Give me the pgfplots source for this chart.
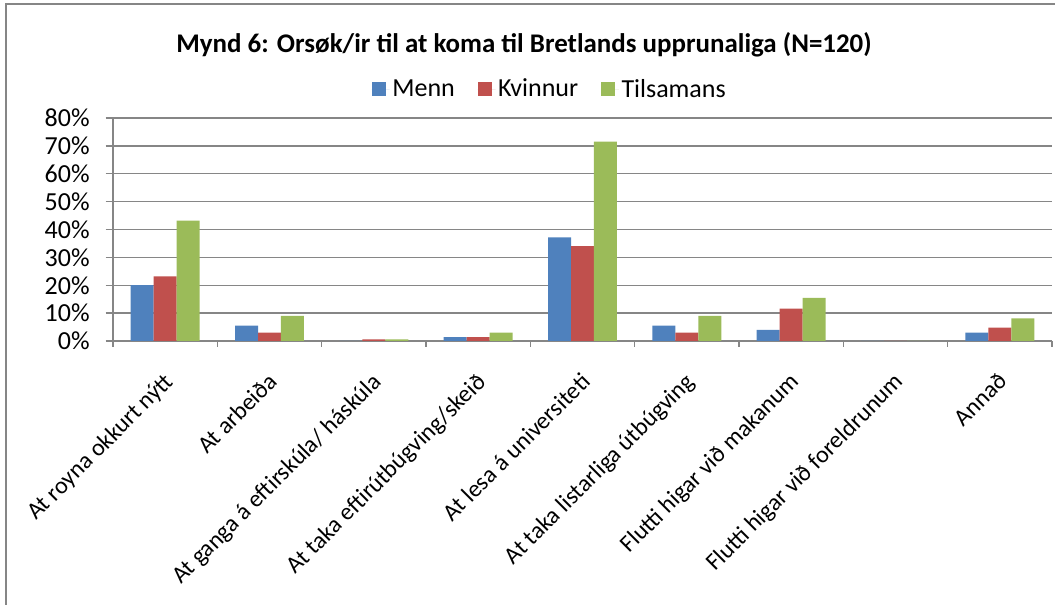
\documentclass[border=0pt]{standalone}
\usepackage{pgfplots}
\pgfplotsset{compat=1.18}
\usepackage{fontspec}
\setmainfont{Carlito}
\definecolor{cMenn}{HTML}{4F81BD}
\definecolor{cKv}{HTML}{C0504D}
\definecolor{cTil}{HTML}{9BBB59}
\definecolor{gridc}{HTML}{868686}
\begin{document}
\begin{tikzpicture}
\begin{axis}[
  at={(84.75pt,198pt)}, anchor=south west,
  scale only axis, width=704.25pt, height=167.25pt,
  xmin=0.5, xmax=9.5, ymin=0, ymax=80,
  ybar=0pt, bar width=0.22,
  axis x line*=bottom, axis y line*=left,
  axis line style={gridc,line width=1.1pt},
  ymajorgrids, grid style={gridc,line width=1.1pt},
  xtick={1,...,9},
  xticklabels={At royna okkurt nýtt,At arbeiða,At ganga á eftirskúla/ háskúla,At taka eftirútbúgving/skeið,At lesa á universiteti,At taka listarliga útbúgving,Flutti higar við makanum,Flutti higar við foreldrunum,Annað},
  minor xtick={0.5,1.5,...,9.5},
  major x tick style={draw=none},
  minor x tick style={gridc,line width=1.1pt},
  y tick style={gridc,line width=1.1pt},
  tick align=outside, major tick length=5.5pt, minor tick length=4.5pt,
  ytick={0,10,...,80},
  yticklabel={\pgfmathprintnumber{\tick}\%},
  /pgf/number format/assume math mode=true,
  y tick label style={font=\fontsize{19.5}{21}\selectfont, xshift=-8.5pt},
  x tick label style={font=\fontsize{18}{20}\selectfont, rotate=45, anchor=north east, inner sep=0pt, xshift=-3pt},
  xticklabel shift=15pt,
  legend columns=3,
  legend style={at={(0.4655,1.13)}, anchor=center, draw=none, fill=none,
    font=\fontsize{19.5}{21}\selectfont, /tikz/every even column/.append style={column sep=15pt}},
  legend image code/.code={\fill[#1,draw=none] (0pt,-5.3pt) rectangle (10.6pt,5.3pt); \path (0pt,0pt) -- (13.5pt,0pt);},
]
\addplot[fill=cMenn,draw=none] coordinates {(1,20.0) (2,5.5) (3,0) (4,1.4) (5,37.2) (6,5.5) (7,4.0) (8,0) (9,3.0)};
\addplot[fill=cKv,draw=none] coordinates {(1,23.2) (2,3.0) (3,0.6) (4,1.4) (5,34.0) (6,3.0) (7,11.6) (8,0) (9,4.8)};
\addplot[fill=cTil,draw=none] coordinates {(1,43.2) (2,9.0) (3,0.6) (4,3.0) (5,71.5) (6,9.0) (7,15.5) (8,0) (9,8.1)};
\legend{Menn,Kvinnur,Tilsamans}
\end{axis}
\node[font=\fontsize{20.2}{22}\selectfont\bfseries] at (393pt,420pt) {Mynd 6: Orsøk/ir til at koma til Bretlands upprunaliga (N=120)};
\draw[gridc,line width=1.1pt] (4.5pt,-20pt) -- (4.5pt,450.75pt) -- (800pt,450.75pt);
\pgfresetboundingbox
\useasboundingbox (0pt,0pt) rectangle (791.25pt,453.75pt);
\end{tikzpicture}
\end{document}
